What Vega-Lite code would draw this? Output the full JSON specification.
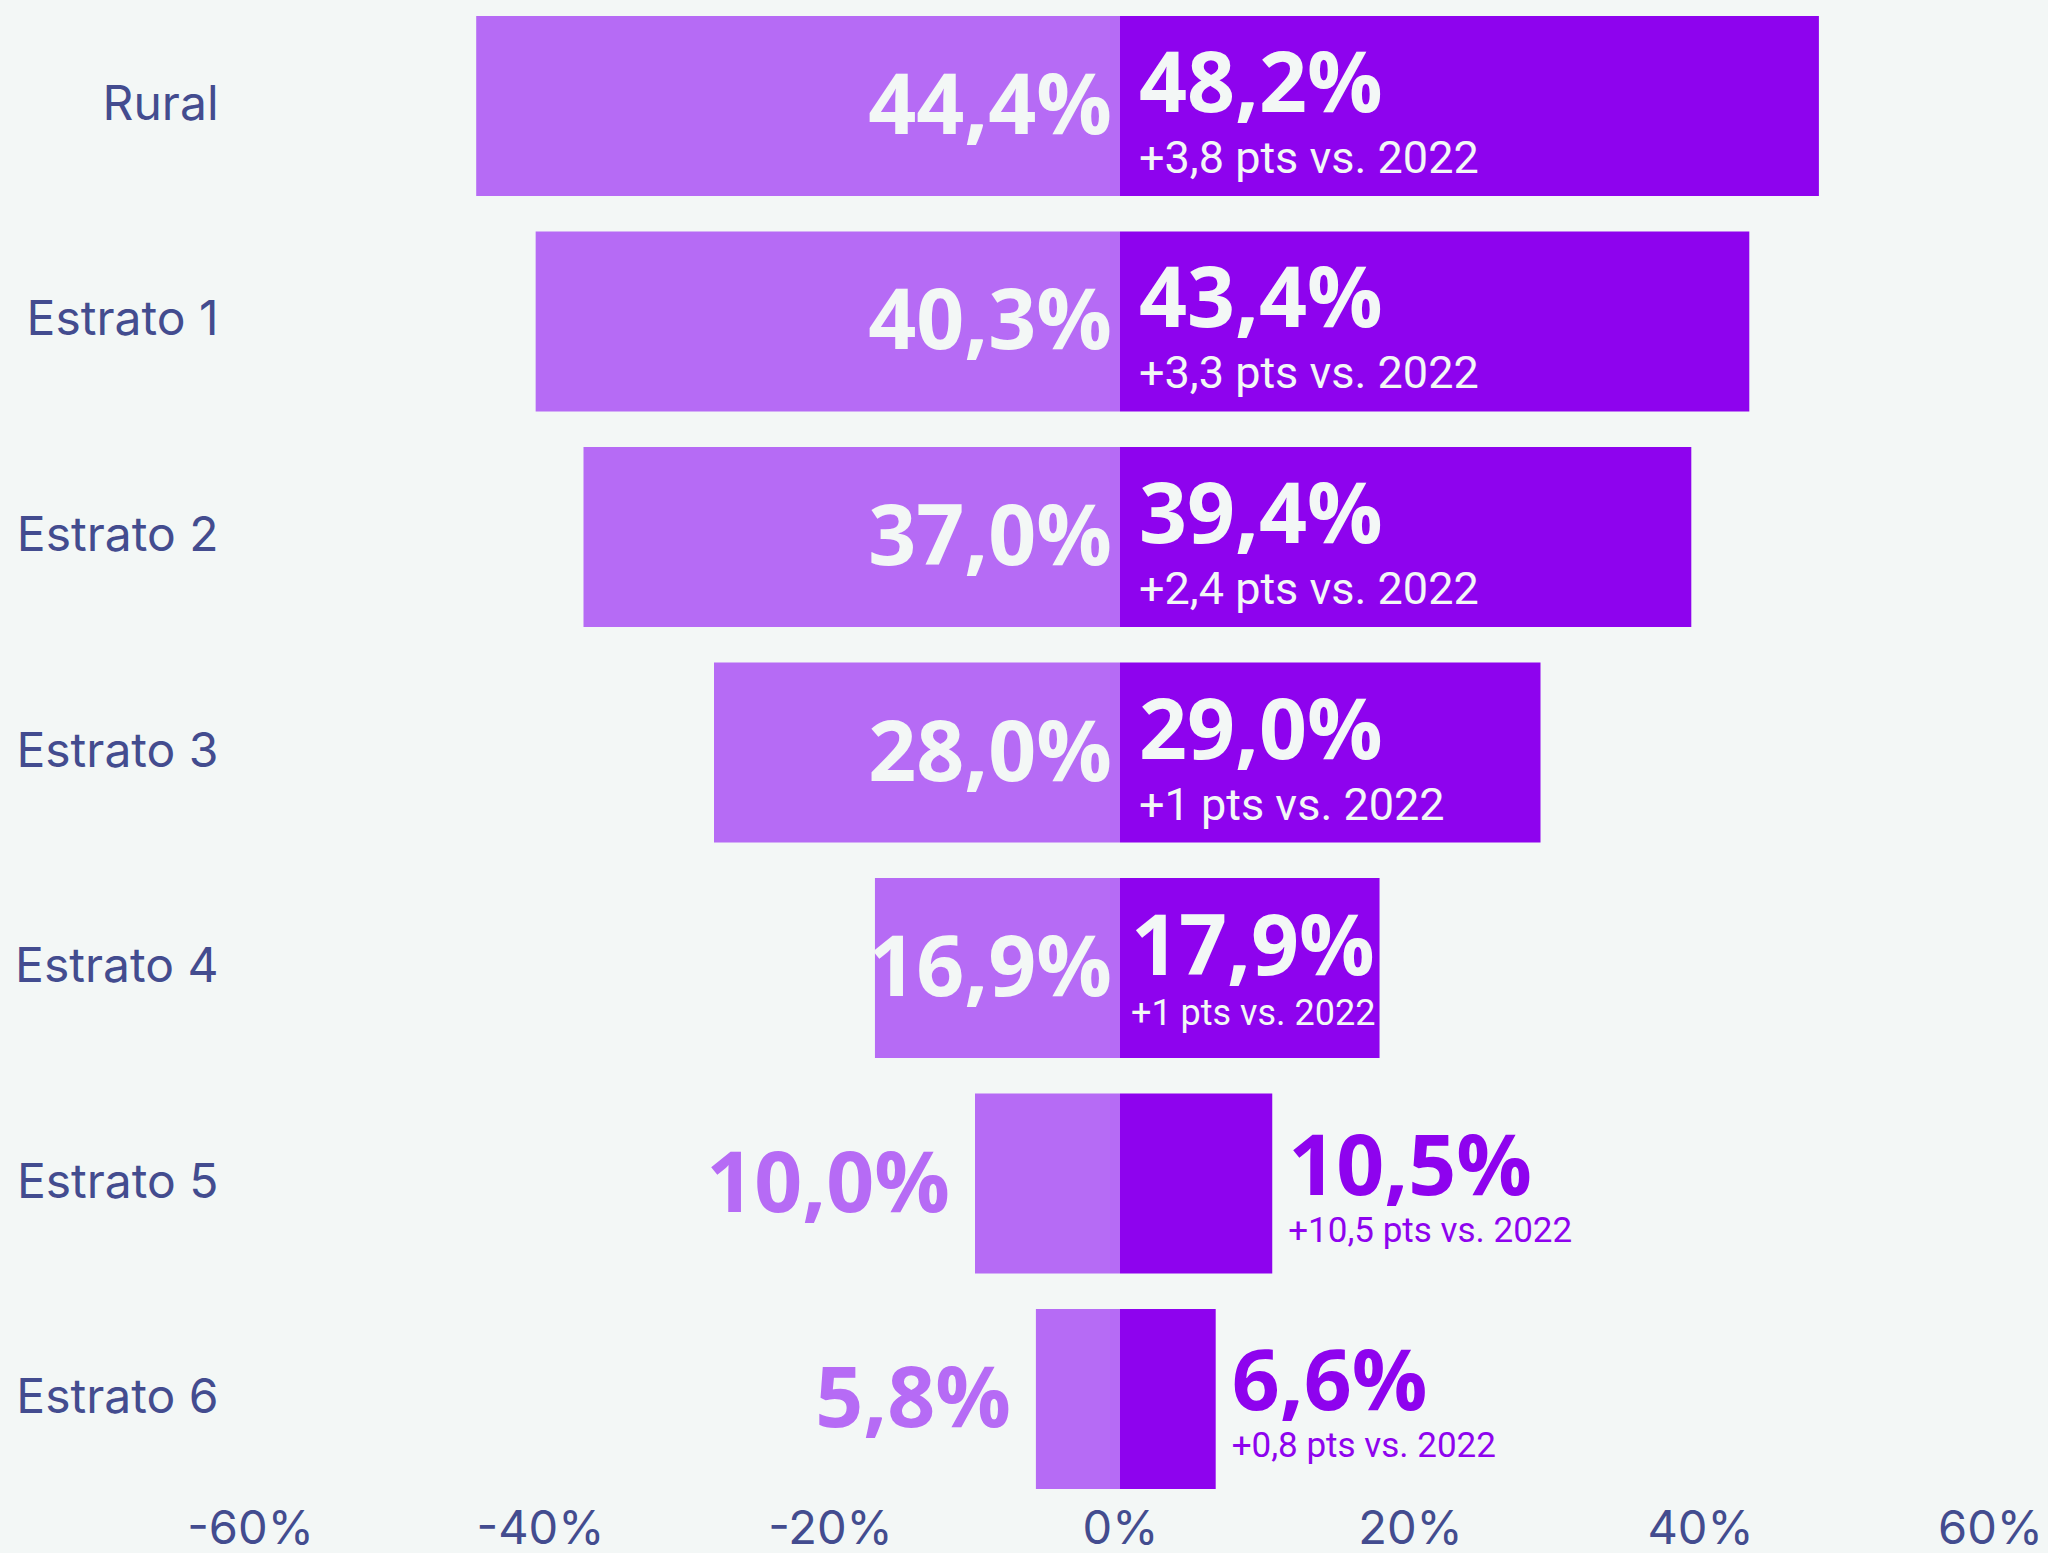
{
  "$schema": "https://vega.github.io/schema/vega-lite/v6.json",
  "width": 1740,
  "height": 1505,
  "autosize": {"type": "none"},
  "padding": {"left": 250, "top": 0, "right": 58, "bottom": 48},
  "background": "#f3f7f6",
  "config": {"view": {"stroke": null}},
  "data": {
    "values": [
      {"cat": "Rural", "serie": "2022", "valor": -44.4, "label": "44,4%"},
      {"cat": "Rural", "serie": "2024", "valor": 48.2, "label": "48,2%", "sub": "+3,8 pts vs. 2022"},
      {"cat": "Estrato 1", "serie": "2022", "valor": -40.3, "label": "40,3%"},
      {"cat": "Estrato 1", "serie": "2024", "valor": 43.4, "label": "43,4%", "sub": "+3,3 pts vs. 2022"},
      {"cat": "Estrato 2", "serie": "2022", "valor": -37.0, "label": "37,0%"},
      {"cat": "Estrato 2", "serie": "2024", "valor": 39.4, "label": "39,4%", "sub": "+2,4 pts vs. 2022"},
      {"cat": "Estrato 3", "serie": "2022", "valor": -28.0, "label": "28,0%"},
      {"cat": "Estrato 3", "serie": "2024", "valor": 29.0, "label": "29,0%", "sub": "+1 pts vs. 2022"},
      {"cat": "Estrato 4", "serie": "2022", "valor": -16.9, "label": "16,9%"},
      {"cat": "Estrato 4", "serie": "2024", "valor": 17.9, "label": "17,9%", "sub": "+1 pts vs. 2022"},
      {"cat": "Estrato 5", "serie": "2022", "valor": -10.0, "label": "10,0%"},
      {"cat": "Estrato 5", "serie": "2024", "valor": 10.5, "label": "10,5%", "sub": "+10,5 pts vs. 2022"},
      {"cat": "Estrato 6", "serie": "2022", "valor": -5.8, "label": "5,8%"},
      {"cat": "Estrato 6", "serie": "2024", "valor": 6.6, "label": "6,6%", "sub": "+0,8 pts vs. 2022"}
    ]
  },
  "encoding": {
    "y": {
      "field": "cat",
      "type": "nominal",
      "sort": ["Rural", "Estrato 1", "Estrato 2", "Estrato 3", "Estrato 4", "Estrato 5", "Estrato 6"],
      "scale": {"paddingInner": 0.165, "paddingOuter": 0.074},
      "axis": {
        "title": null,
        "ticks": false,
        "domain": false,
        "grid": false,
        "labelPadding": 32,
        "labelLimit": 0,
        "labelFont": "Inter",
        "labelFontSize": 48,
        "labelColor": "#434c8f"
      }
    },
    "x": {
      "field": "valor",
      "type": "quantitative",
      "scale": {"domain": [-60, 60]},
      "axis": {
        "title": null,
        "values": [-60, -40, -20, 0, 20, 40, 60],
        "labelExpr": "datum.value + '%'",
        "grid": false,
        "ticks": false,
        "domain": false,
        "labelFlush": false,
        "labelOverlap": false,
        "labelPadding": 1,
        "labelFont": "Inter",
        "labelFontSize": 47,
        "labelColor": "#434c8f"
      }
    }
  },
  "layer": [
    {
      "mark": {"type": "bar"},
      "encoding": {
        "x2": {"datum": 0},
        "color": {
          "field": "serie",
          "type": "nominal",
          "scale": {"domain": ["2022", "2024"], "range": ["#b66bf5", "#8e03ee"]},
          "legend": null
        }
      }
    },
    {
      "transform": [{"filter": "datum.serie == '2022' && datum.valor <= -15"}],
      "mark": {"type": "text", "align": "right", "baseline": "alphabetic", "dx": -8, "dy": 28, "font": "Open Sans", "fontWeight": "bold", "fontSize": 84, "color": "#f3f7f6"},
      "encoding": {"x": {"datum": 0, "type": "quantitative"}, "text": {"field": "label"}}
    },
    {
      "transform": [{"filter": "datum.serie == '2022' && datum.valor > -15"}],
      "mark": {"type": "text", "align": "right", "baseline": "alphabetic", "dx": -25, "dy": 28, "font": "Open Sans", "fontWeight": "bold", "fontSize": 84, "color": "#b66bf5"},
      "encoding": {"text": {"field": "label"}}
    },
    {
      "transform": [{"filter": "datum.serie == '2024' && datum.valor >= 20"}],
      "mark": {"type": "text", "align": "left", "baseline": "alphabetic", "dx": 19, "dy": 6, "font": "Open Sans", "fontWeight": "bold", "fontSize": 84, "color": "#f3f7f6"},
      "encoding": {"x": {"datum": 0, "type": "quantitative"}, "text": {"field": "label"}}
    },
    {
      "transform": [{"filter": "datum.serie == '2024' && datum.valor >= 20"}],
      "mark": {"type": "text", "align": "left", "baseline": "alphabetic", "dx": 19, "dy": 67, "font": "Roboto", "fontSize": 45, "color": "#f3f7f6"},
      "encoding": {"x": {"datum": 0, "type": "quantitative"}, "text": {"field": "sub"}}
    },
    {
      "transform": [{"filter": "datum.serie == '2024' && datum.valor >= 15 && datum.valor < 20"}],
      "mark": {"type": "text", "align": "left", "baseline": "alphabetic", "dx": 11, "dy": 7, "font": "Open Sans", "fontWeight": "bold", "fontSize": 84, "color": "#f3f7f6"},
      "encoding": {"x": {"datum": 0, "type": "quantitative"}, "text": {"field": "label"}}
    },
    {
      "transform": [{"filter": "datum.serie == '2024' && datum.valor >= 15 && datum.valor < 20"}],
      "mark": {"type": "text", "align": "left", "baseline": "alphabetic", "dx": 11, "dy": 57, "font": "Roboto", "fontSize": 36, "color": "#f3f7f6"},
      "encoding": {"x": {"datum": 0, "type": "quantitative"}, "text": {"field": "sub"}}
    },
    {
      "transform": [{"filter": "datum.serie == '2024' && datum.valor < 15"}],
      "mark": {"type": "text", "align": "left", "baseline": "alphabetic", "dx": 16, "dy": 11, "font": "Open Sans", "fontWeight": "bold", "fontSize": 84, "color": "#8e03ee"},
      "encoding": {"text": {"field": "label"}}
    },
    {
      "transform": [{"filter": "datum.serie == '2024' && datum.valor < 15"}],
      "mark": {"type": "text", "align": "left", "baseline": "alphabetic", "dx": 16, "dy": 58, "font": "Roboto", "fontSize": 35, "color": "#8e03ee"},
      "encoding": {"text": {"field": "sub"}}
    }
  ]
}
